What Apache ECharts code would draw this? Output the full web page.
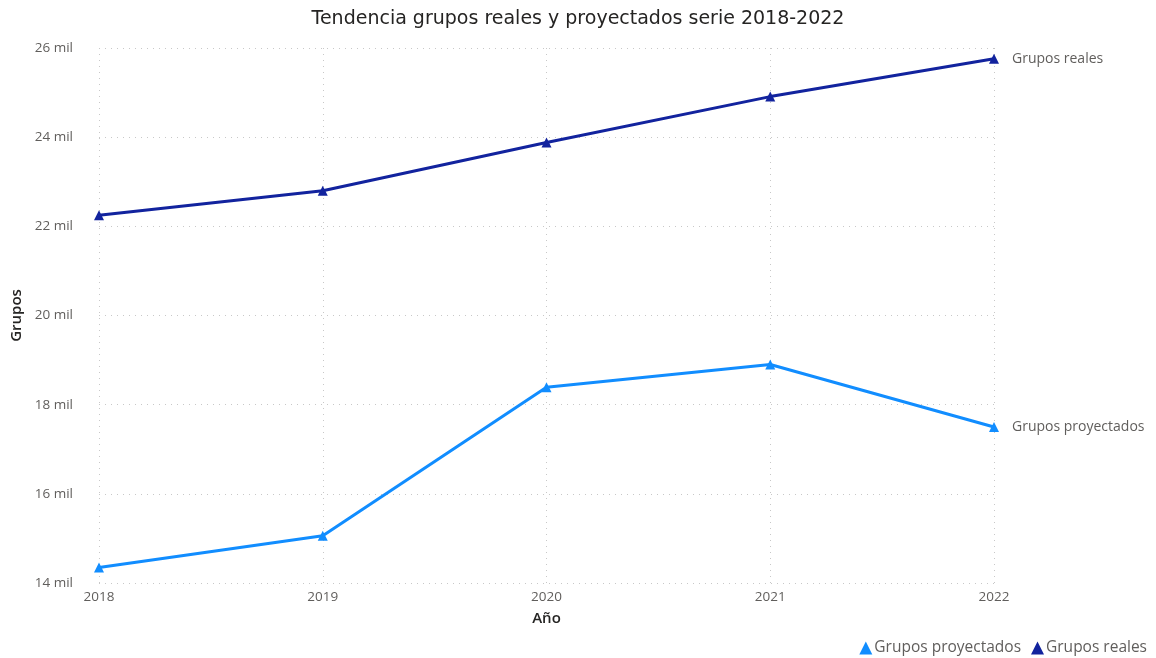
<!DOCTYPE html>
<html>
<head>
<meta charset="utf-8">
<script src="https://cdn.jsdelivr.net/npm/echarts@6/dist/echarts.min.js"></script>
<style>
html,body{margin:0;padding:0;background:#fff;}
#c{width:1156px;height:658px;}
</style>
</head>
<body>
<div id="c"></div>
<script>
const years = ['2018', '2019', '2020', '2021', '2022'];
const gruposProyectados = [14350, 15060, 18390, 18900, 17500];
const gruposReales = [22250, 22800, 23880, 24910, 25760];
const seriesNames = ['Grupos proyectados', 'Grupos reales'];
const yTicks = { min: 14000, max: 26000, interval: 2000 };

const chart = echarts.init(document.getElementById('c'), null, { renderer: 'canvas' });
const grayText = '#605E5C';
const darkText = '#252423';
const labelFont = '"Open Sans", "Noto Sans", sans-serif';

chart.setOption({
  animation: false,
  backgroundColor: '#fff',
  title: {
    text: 'Tendencia grupos reales y proyectados serie 2018-2022',
    left: 'center',
    top: 5,
    textStyle: { fontFamily: '"DejaVu Sans", sans-serif', fontSize: 19, fontWeight: 'normal', color: darkText }
  },
  legend: {
    right: 4,
    bottom: -3,
    icon: 'triangle',
    itemWidth: 13,
    itemHeight: 13,
    itemGap: 10,
    textStyle: { fontFamily: labelFont, fontSize: 15.5, color: grayText, padding: [0, 0, 0, -3] },
    data: seriesNames
  },
  grid: { left: 99, right: 162, top: 48, bottom: 75 },
  xAxis: {
    type: 'category',
    data: years,
    boundaryGap: false,
    name: 'Año',
    nameLocation: 'middle',
    nameGap: 28,
    nameTextStyle: { fontFamily: labelFont, fontSize: 15, fontWeight: 600, color: darkText },
    axisLine: { show: false },
    axisTick: { show: false },
    axisLabel: { fontFamily: labelFont, fontSize: 13.5, color: grayText, margin: 7 },
    splitLine: { show: true, lineStyle: { type: [1, 5], color: '#C8C8C8', width: 1 } }
  },
  yAxis: {
    type: 'value',
    min: yTicks.min,
    max: yTicks.max,
    interval: yTicks.interval,
    name: 'Grupos',
    nameLocation: 'middle',
    nameGap: 74,
    nameRotate: 90,
    nameTextStyle: { fontFamily: labelFont, fontSize: 15, fontWeight: 600, color: darkText },
    axisLine: { show: false },
    axisTick: { show: false },
    axisLabel: {
      fontFamily: labelFont, fontSize: 13.5, color: grayText, margin: 26,
      formatter: v => (v / 1000) + ' mil'
    },
    splitLine: { show: true, lineStyle: { type: [1, 5], color: '#C8C8C8', width: 1 } }
  },
  series: [
    {
      name: seriesNames[0],
      type: 'line',
      data: gruposProyectados,
      color: '#118DFF',
      symbol: 'triangle',
      symbolSize: 10,
      lineStyle: { width: 3 },
      endLabel: { show: true, formatter: '{a}', distance: 18, fontFamily: labelFont, fontSize: 14, color: grayText }
    },
    {
      name: seriesNames[1],
      type: 'line',
      data: gruposReales,
      color: '#12239E',
      symbol: 'triangle',
      symbolSize: 10,
      lineStyle: { width: 3 },
      endLabel: { show: true, formatter: '{a}', distance: 18, fontFamily: labelFont, fontSize: 14, color: grayText }
    }
  ]
});
</script>
</body>
</html>
